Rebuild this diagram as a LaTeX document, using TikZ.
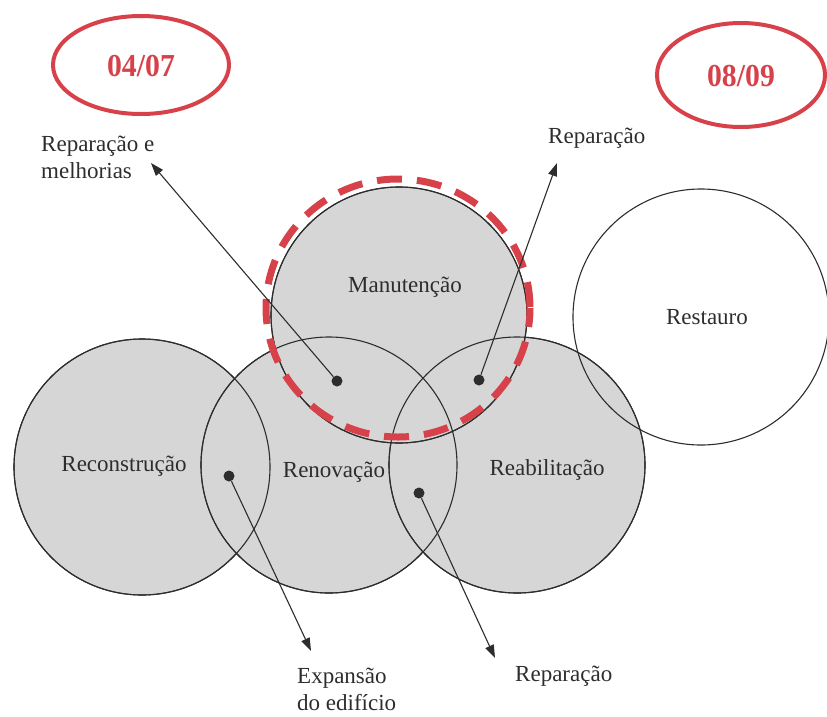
\documentclass[tikz,border=0pt]{standalone}
\usepackage{fontspec}
\setmainfont{Liberation Serif}
\usetikzlibrary{arrows.meta}
\definecolor{stamp}{RGB}{215,66,74}
\definecolor{disc}{RGB}{214,214,214}
\definecolor{ink}{RGB}{45,45,45}
\tikzset{
  zone/.style={circle, minimum size=256pt, inner sep=0pt, draw=ink, line width=1.1pt},
  zonelabel/.style={text=ink, font=\fontsize{23}{27}\selectfont, inner sep=0pt},
  pin/.style={circle, fill=ink, minimum size=11pt, inner sep=0pt},
  pointer/.style={draw=ink, line width=1.1pt, -{Triangle[length=13pt,width=9pt]}},
  datetext/.style={text=stamp, font=\fontsize{32}{36}\selectfont\bfseries, xscale=0.93},
  callout/.style={text=ink, font=\fontsize{23}{27}\selectfont, align=left, inner sep=0pt},
}
\begin{document}
\begin{tikzpicture}[x=1pt,y=-1pt]
\useasboundingbox (0,0) rectangle (827,716);

% date stamps
\draw[stamp, line width=4pt] (141,65) ellipse [x radius=88, y radius=49];
\node[datetext] (d1) at (141,66) {04/07};
\draw[stamp, line width=4pt] (741,75) ellipse [x radius=84, y radius=52];
\node[datetext] (d2) at (741,76) {08/09};

% shaded intervention zones
\node[zone, fill=disc] (rec) at (142,467) {};
\node[zone, fill=disc] (ren) at (329,465) {};
\node[zone, fill=disc] (rea) at (517,465) {};
\node[zone, fill=disc] (man) at (399,315) {};
% outlines on top of the fills
\node[zone] at (142,467) {};
\node[zone] at (329,465) {};
\node[zone] at (517,465) {};
\node[zone] at (399,315) {};
\node[zone] (res) at (701,317) {};

% zone names
\node[zonelabel] at (405,287) {Manutenção};
\node[zonelabel] at (124,466) {Reconstrução};
\node[zonelabel] at (334,472) {Renovação};
\node[zonelabel] at (547,470) {Reabilitação};
\node[zonelabel] at (707,317) {Restauro};

% highlighted maintenance zone
\draw[stamp, line width=7pt, dash pattern=on 25pt off 15pt, dash phase=6pt]
  (398,308) ellipse [x radius=132, y radius=129];

% overlap markers
\node[pin] (p1) at (337,381) {};
\node[pin] (p2) at (479,380) {};
\node[pin] (p3) at (229,476) {};
\node[pin] (p4) at (419,493) {};

% arrow ends
\coordinate (e1) at (151,163);
\coordinate (e2) at (557,163);
\coordinate (e3) at (311,651);
\coordinate (e4) at (495,658);

\draw[pointer] (p1) -- (e1);
\draw[pointer] (p2) -- (e2);
\draw[pointer] (p3) -- (e3);
\draw[pointer] (p4) -- (e4);

% callouts
\node[callout, anchor=north west] (c1) at (41,136) {Reparação e\\melhorias};
\node[callout, anchor=west] (c2) at (548,138) {Reparação};
\node[callout, anchor=north west] (c3) at (297,668) {Expansão\\do edifício};
\node[callout, anchor=west] (c4) at (515,676) {Reparação};
\end{tikzpicture}
\end{document}
